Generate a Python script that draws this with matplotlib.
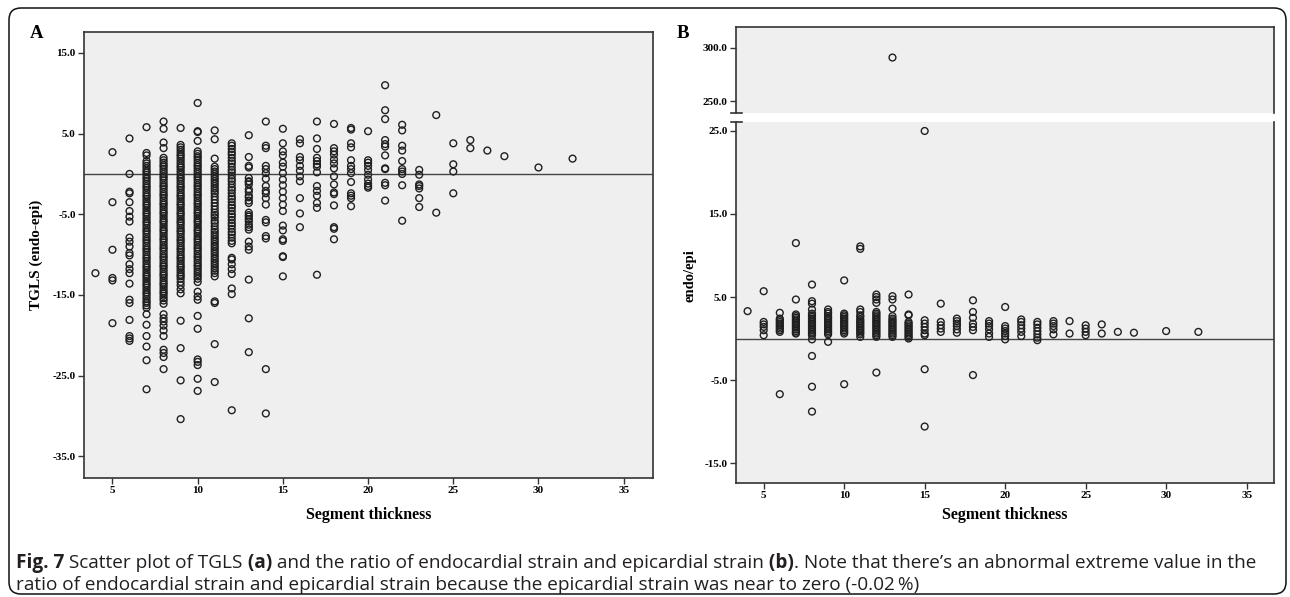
import matplotlib
matplotlib.use("Agg")
import matplotlib.pyplot as plt
import numpy as np
from matplotlib.patches import FancyBboxPatch
from matplotlib.lines import Line2D
from matplotlib.transforms import IdentityTransform

# ---------------- data: panel A (TGLS endo-epi vs segment thickness) -------------
a4 = [-12.3]
a5 = [2.7, -3.5, -9.4, -12.9, -13.2, -18.5]
a6 = [4.4, 0.0, -2.2, -2.4, -3.5, -4.6, -5.3, -5.9, -7.9, -8.4, -9.0, -9.8, -10.1,
      -11.2, -11.8, -12.3, -13.6, -15.6, -16.0, -18.1, -20.1, -20.4, -20.7]
a7 = [5.8, 2.6, 2.3, 1.6, 1.3, 1.0, 0.7, 0.4, 0.2, -0.1, -0.4, -0.6, -0.9, -1.2, -1.5,
      -1.7, -2.0, -2.3, -2.6, -2.8, -3.1, -3.4, -3.7, -3.9, -4.2, -4.5, -4.8, -5.0, -5.3,
      -5.6, -5.9, -6.1, -6.4, -6.7, -7.0, -7.2, -7.5, -7.8, -8.1, -8.3, -8.6, -8.9, -9.2,
      -9.4, -9.7, -10.0, -10.3, -10.5, -10.8, -11.1, -11.4, -11.6, -11.9, -12.2, -12.5,
      -12.7, -13.0, -13.3, -13.6, -13.8, -14.1, -14.4, -14.7, -14.9, -15.2, -15.5, -15.8,
      -16.0, -16.3, -16.6, -17.4, -18.7, -20.1, -21.4, -23.1, -26.7]
a8 = [6.5, 5.6, 3.9, 3.2, 2.0, 1.7, 1.4, 1.1, 0.9, 0.6, 0.3, 0.0, -0.3, -0.5, -0.8, -1.1,
      -1.4, -1.6, -1.9, -2.2, -2.5, -2.7, -3.0, -3.3, -3.6, -3.8, -4.1, -4.4, -4.7, -4.9,
      -5.2, -5.5, -5.8, -6.0, -6.3, -6.6, -6.9, -7.1, -7.4, -7.7, -8.0, -8.2, -8.5, -8.8,
      -9.1, -9.3, -9.6, -9.9, -10.2, -10.4, -10.7, -11.0, -11.3, -11.5, -11.8, -12.1,
      -12.4, -12.6, -12.9, -13.2, -13.5, -13.7, -14.0, -14.3, -14.6, -14.8, -15.1, -15.4,
      -15.7, -16.1, -17.4, -17.9, -18.3, -18.8, -19.4, -20.1, -21.8, -22.2, -22.7, -24.2]
a9 = [5.7, 3.6, 3.3, 3.0, 2.7, 2.4, 2.2, 1.9, 1.6, 1.3, 1.0, 0.8, 0.5, 0.2, -0.1, -0.4,
      -0.6, -0.9, -1.2, -1.5, -1.7, -2.0, -2.3, -2.6, -2.8, -3.1, -3.4, -3.7, -3.9, -4.2,
      -4.5, -4.8, -5.0, -5.3, -5.6, -5.9, -6.1, -6.4, -6.7, -7.0, -7.2, -7.5, -7.8, -8.1,
      -8.3, -8.6, -8.9, -9.2, -9.4, -9.7, -10.0, -10.3, -10.5, -10.8, -11.1, -11.4, -11.6,
      -11.9, -12.2, -12.5, -12.7, -13.0, -13.4, -13.8, -14.3, -14.8, -18.2, -21.6, -25.6,
      -30.4]
a10 = [8.8, 5.3, 5.2, 4.1, 2.8, 2.5, 2.2, 2.0, 1.7, 1.4, 1.1, 0.9, 0.6, 0.3, 0.0, -0.3,
       -0.5, -0.8, -1.1, -1.4, -1.6, -1.9, -2.2, -2.5, -2.7, -3.0, -3.3, -3.6, -3.8, -4.1,
       -4.4, -4.7, -4.9, -5.2, -5.5, -5.8, -6.0, -6.3, -6.6, -6.9, -7.1, -7.4, -7.7, -8.0,
       -8.2, -8.5, -8.8, -9.1, -9.3, -9.6, -9.9, -10.2, -10.4, -10.7, -11.0, -11.3, -11.5,
       -11.8, -12.1, -12.4, -12.7, -13.0, -13.4, -14.6, -15.2, -15.6, -17.6, -19.2, -23.0,
       -23.3, -23.7, -25.4, -26.9]
a11 = [5.4, 4.3, 1.9, 0.9, 0.6, 0.3, 0.0, -0.3, -0.6, -0.9, -1.2, -1.5, -1.8, -2.1, -2.4,
       -2.8, -3.2, -3.6, -4.0, -4.4, -4.8, -5.1, -5.4, -5.8, -6.1, -6.5, -6.9, -7.2, -7.5,
       -7.8, -8.1, -8.4, -8.7, -9.0, -9.3, -9.6, -9.9, -10.2, -10.5, -10.8, -11.1, -11.4,
       -11.7, -12.0, -12.3, -12.7, -15.8, -16.0, -21.1, -25.8]
a12 = [3.8, 3.5, 3.1, 2.7, 2.4, 2.0, 1.6, 1.3, 0.9, 0.5, 0.2, -0.2, -0.6, -0.9, -1.3,
       -1.7, -2.0, -2.4, -2.8, -3.1, -3.5, -3.9, -4.2, -4.6, -5.0, -5.3, -5.7, -6.1, -6.4,
       -6.8, -7.2, -7.5, -7.9, -8.3, -8.6, -10.4, -10.6, -11.2, -11.8, -12.4, -14.2, -14.9,
       -29.3]
a13 = [4.8, 2.1, 1.0, 0.8, -0.5, -0.9, -1.0, -1.3, -1.9, -2.2, -2.7, -2.9, -3.3, -3.6,
       -4.8, -5.1, -5.3, -5.6, -5.9, -6.3, -6.6, -6.9, -8.4, -9.0, -9.4, -13.1, -17.9, -22.1]
a14 = [6.5, 3.5, 3.2, 1.0, 0.6, 0.1, -0.6, -1.5, -2.1, -2.4, -3.0, -3.8, -5.7, -6.0,
       -7.7, -8.0, -24.2, -29.7]
a15 = [5.6, 3.8, 2.8, 2.3, 1.4, 0.9, 0.1, -0.7, -1.4, -2.2, -3.0, -3.8, -4.6, -6.4,
       -7.0, -8.1, -8.3, -10.2, -10.3, -12.7]
a16 = [4.3, 3.8, 2.1, 1.7, 1.0, 0.4, -0.3, -0.9, -3.0, -4.9, -6.6]
a17 = [6.5, 4.4, 3.1, 2.0, 1.6, 1.2, 0.9, 0.2, -1.5, -2.1, -2.7, -3.6, -4.2, -12.5]
a18 = [6.2, 3.2, 2.8, 2.4, 1.8, 1.3, 0.7, -0.3, -1.3, -2.3, -2.5, -3.9, -6.6, -6.8, -8.1]
a19 = [5.7, 5.5, 3.8, 3.3, 1.7, 1.0, 0.6, 0.1, -1.0, -2.4, -2.7, -3.0, -4.0]
a20 = [5.3, 1.7, 1.4, 1.0, 0.5, -0.1, -0.7, -1.2, -1.5, -1.7]
a21 = [11.0, 7.9, 6.8, 4.2, 3.7, 3.4, 2.3, 0.7, 0.6, -1.1, -1.4, -3.3]
a22 = [6.1, 5.4, 3.5, 2.9, 1.6, 0.6, 0.3, 0.0, -1.4, -5.8]
a23 = [0.5, -0.1, -1.3, -1.5, -1.8, -3.0, -4.1]
a24 = [7.3, -4.8]
a25 = [3.8, 1.2, 0.3, -2.4]
a26 = [4.2, 3.2]
a27 = [2.9]
a28 = [2.2]
a30 = [0.8]
a32 = [1.9]
a_thickness = [4, 5, 6, 7, 8, 9, 10, 11, 12, 13, 14, 15, 16, 17, 18, 19, 20, 21, 22,
               23, 24, 25, 26, 27, 28, 30, 32]
a_columns = [a4, a5, a6, a7, a8, a9, a10, a11, a12, a13, a14, a15, a16, a17, a18, a19,
             a20, a21, a22, a23, a24, a25, a26, a27, a28, a30, a32]

# ---------------- data: panel B (endo/epi ratio vs segment thickness) ------------
b4 = [3.3]
b5 = [5.7, 2.0, 1.7, 1.4, 1.0, 0.4]
b6 = [3.1, 2.4, 2.2, 2.0, 1.8, 1.6, 1.4, 1.2, 1.0, 0.8, -6.7]
b7 = [11.5, 4.7, 2.9, 2.7, 2.5, 2.3, 2.1, 1.9, 1.7, 1.5, 1.3, 1.1, 0.9, 0.7, 0.6]
b8 = [6.5, 4.5, 4.2, 3.5, 3.0, 2.8, 2.6, 2.4, 2.2, 2.0, 1.8, 1.6, 1.4, 1.2, 1.0, 0.8,
      0.6, 0.4, -0.1, -2.1, -5.8, -8.8]
b9 = [3.5, 3.2, 3.0, 2.7, 2.5, 2.3, 2.1, 1.9, 1.7, 1.5, 1.3, 1.1, 0.9, 0.7, 0.5, -0.4]
b10 = [7.0, 3.0, 2.8, 2.6, 2.4, 2.2, 2.0, 1.8, 1.6, 1.4, 1.2, 1.0, 0.8, 0.6, -5.5]
b11 = [11.1, 10.8, 3.5, 3.2, 2.8, 2.6, 2.3, 2.1, 1.9, 1.7, 1.5, 1.3, 1.1, 0.9, 0.7, 0.5,
       0.2]
b12 = [5.3, 5.0, 4.7, 4.3, 3.2, 3.0, 2.8, 2.6, 2.4, 2.2, 2.0, 1.8, 1.6, 1.4, 1.2, 1.0,
       0.8, 0.6, 0.4, 0.2, -4.1]
b13 = [5.1, 4.7, 3.6, 2.7, 2.4, 2.2, 2.0, 1.8, 1.6, 1.4, 1.2, 1.0, 0.8, 0.6, 0.4, 0.2]
b14 = [5.3, 2.9, 2.8, 2.0, 1.8, 1.6, 1.4, 1.2, 1.0, 0.8, 0.6, 0.4, 0.2, 0.0]
b15 = [25.0, 2.2, 1.8, 1.4, 1.0, 0.6, 0.4, -3.7, -10.6]
b16 = [4.2, 2.0, 1.6, 1.2, 0.8]
b17 = [2.4, 2.1, 1.8, 1.5, 1.1, 0.7]
b18 = [4.6, 3.2, 2.5, 1.8, 1.4, 1.0, -4.4]
b19 = [2.1, 1.8, 1.5, 1.1, 0.6, 0.2]
b20 = [3.8, 1.5, 1.2, 0.9, 0.6, 0.3, -0.1]
b21 = [2.3, 2.0, 1.6, 1.2, 0.8, 0.3]
b22 = [2.0, 1.7, 1.3, 0.9, 0.5, 0.1, -0.2]
b23 = [2.1, 1.8, 1.5, 1.1, 0.5]
b24 = [2.1, 0.6]
b25 = [1.6, 1.2, 0.8, 0.4]
b26 = [1.7, 0.6]
b27 = [0.8]
b28 = [0.7]
b30 = [0.9]
b32 = [0.8]
b_thickness = [4, 5, 6, 7, 8, 9, 10, 11, 12, 13, 14, 15, 16, 17, 18, 19, 20, 21, 22,
               23, 24, 25, 26, 27, 28, 30, 32]
b_columns = [b4, b5, b6, b7, b8, b9, b10, b11, b12, b13, b14, b15, b16, b17, b18, b19,
             b20, b21, b22, b23, b24, b25, b26, b27, b28, b30, b32]
b_outlier_x = [13]
b_outlier_y = [291.0]

# ticks / labels
x_ticks = [5, 10, 15, 20, 25, 30, 35]
a_yticks = [15, 5, -5, -15, -25, -35]
b_upper_ticks = [300, 250]
b_lower_ticks = [25, 15, 5, -5, -15]
x_label = "Segment thickness"
a_ylabel = "TGLS (endo-epi)"
b_ylabel = "endo/epi"
caption_line1 = [("Fig. 7", True), (" Scatter plot of TGLS", False), (" (a)", True),
                 (" and the ratio of endocardial strain and epicardial strain", False),
                 (" (b)", True),
                 (". Note that there\u2019s an abnormal extreme value in the", False)]
caption_line2 = [("ratio of endocardial strain and epicardial strain because the "
                  "epicardial strain was near to zero (-0.02\u2009%)", False)]

# ---------------- figure ------------------------------------------------------
W, H = 1290, 597
fig = plt.figure(figsize=(W / 100, H / 100), dpi=100)
fig.patch.set_facecolor("white")


def rect(l, t, r, b):
    return [l / W, 1 - b / H, (r - l) / W, (b - t) / H]


BG = "#efefef"
SPINE = "#333333"
MK = "#202020"
SERIF = ["Liberation Serif", "DejaVu Serif"]
tickfont = dict(family=SERIF, weight="bold", size=8)


def collect(thick, cols):
    xs, ys = [], []
    for t, col in zip(thick, cols):
        xs.extend([t] * len(col))
        ys.extend(col)
    return np.array(xs, float), np.array(ys, float)


def style(ax):
    ax.set_facecolor(BG)
    for s in ax.spines.values():
        s.set_color(SPINE)
        s.set_linewidth(1.2)
    ax.tick_params(direction="out", length=4.5, width=1.0, color=SPINE, pad=1.5)


def scatter(ax, x, y):
    ax.scatter(x, y, s=24, facecolors="none", edgecolors=MK, linewidths=1.0, zorder=3)


# panel A
axA = fig.add_axes(rect(84, 32, 653, 478))
style(axA)
xa, ya = collect(a_thickness, a_columns)
axA.axhline(0, color="#454545", lw=1.0, zorder=2)
scatter(axA, xa, ya)
axA.set_xlim(3.33, 36.72)
axA.set_ylim(-37.7, 17.6)
axA.set_xticks(x_ticks)
axA.set_xticklabels([str(v) for v in x_ticks], **tickfont)
axA.set_yticks(a_yticks)
axA.set_yticklabels([f"{v:.1f}" for v in a_yticks], **tickfont)

# panel B (broken axis)
axBu = fig.add_axes(rect(736, 27, 1274, 113))
axBl = fig.add_axes(rect(736, 122, 1274, 483))
for ax in (axBu, axBl):
    style(ax)
axBu.spines["bottom"].set_visible(False)
axBl.spines["top"].set_visible(False)
xb, yb = collect(b_thickness, b_columns)
axBl.axhline(0, color="#454545", lw=1.0, zorder=2)
scatter(axBl, xb, yb)
scatter(axBu, b_outlier_x, b_outlier_y)
for ax in (axBu, axBl):
    ax.set_xlim(3.28, 36.7)
axBu.set_ylim(238.7, 319.8)
axBl.set_ylim(-17.4, 26.08)
axBu.set_xticks([])
axBl.set_xticks(x_ticks)
axBl.set_xticklabels([str(v) for v in x_ticks], **tickfont)
axBu.set_yticks(b_upper_ticks)
axBu.set_yticklabels([f"{v:.1f}" for v in b_upper_ticks], **tickfont)
axBl.set_yticks(b_lower_ticks)
axBl.set_yticklabels([f"{v:.1f}" for v in b_lower_ticks], **tickfont)

# break caps
for ypx in (113, 122):
    fig.add_artist(Line2D([731 / W, 742 / W], [1 - ypx / H, 1 - ypx / H],
                          color=SPINE, lw=1.2, transform=fig.transFigure))

# axis labels
labfont = dict(family=SERIF, weight="bold")
fig.text(368.5 / W, 1 - 515 / H, x_label, ha="center", va="center", size=11.5, **labfont)
fig.text(1005 / W, 1 - 515 / H, x_label, ha="center", va="center", size=11.5, **labfont)
fig.text(36 / W, 1 - 255 / H, a_ylabel, ha="center", va="center", rotation=90,
         size=11, **labfont)
fig.text(690 / W, 1 - 276 / H, b_ylabel, ha="center", va="center", rotation=90,
         size=10.5, **labfont)
fig.text(37 / W, 1 - 33 / H, "A", ha="center", va="center", size=13.5, **labfont)
fig.text(683 / W, 1 - 33 / H, "B", ha="center", va="center", size=13.5, **labfont)

# rounded frame
frame = FancyBboxPatch((9, H - 594), 1277, 586,
                       boxstyle="round,pad=0,rounding_size=12",
                       transform=IdentityTransform(), facecolor="none",
                       edgecolor="#111111", linewidth=1.1, zorder=0)
fig.add_artist(frame)

# caption (mixed bold / regular)
CAPFAM = ["Open Sans", "DejaVu Sans"]
renderer = fig.canvas.get_renderer()


def draw_line(parts, x0, ypx, size):
    x = x0
    arts = []
    for txt, bold in parts:
        t = fig.text(x / W, 1 - ypx / H, txt, ha="left", va="center", size=size,
                     family=CAPFAM, weight="bold" if bold else "normal",
                     color="#231f20")
        bb = t.get_window_extent(renderer=renderer)
        x += bb.width
        arts.append(t)
    return x, arts


# fit first line width to the reference span
end, arts = draw_line(caption_line1, 16, 563, 10)
for a in arts:
    a.remove()
cap_size = 10 * (1262 - 16) / (end - 16)
draw_line(caption_line1, 16, 563, cap_size)
draw_line(caption_line2, 16, 585, cap_size)

fig.savefig("out.png", dpi=100, facecolor="white")
